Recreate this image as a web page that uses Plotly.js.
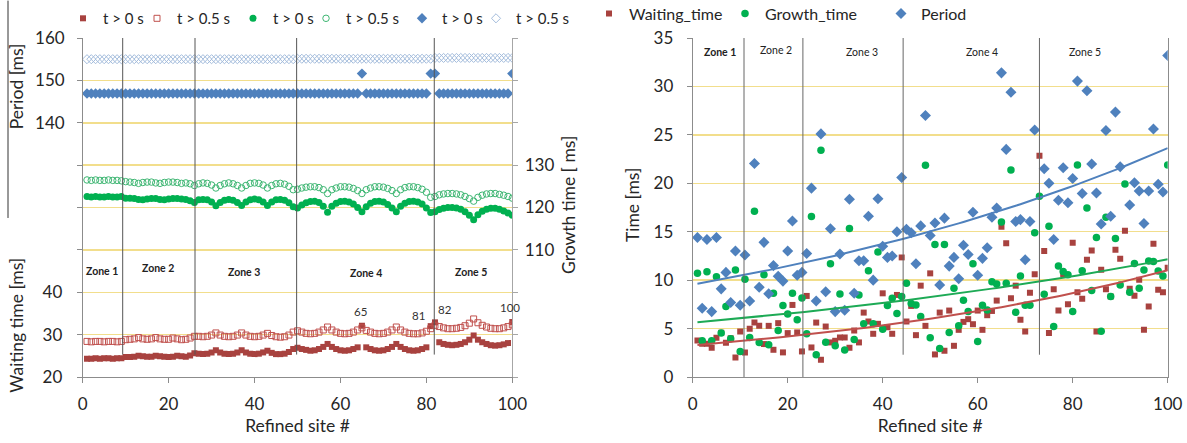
<!DOCTYPE html>
<html>
<head>
<meta charset="utf-8">
<script src="https://cdn.plot.ly/plotly-3.0.1.min.js"></script>
<style>html,body{margin:0;padding:0;background:#fff;}#chart{width:1187px;height:443px;}</style>
</head>
<body>
<div id="chart"></div>
<script>
// ---------------- DATA ----------------
const sites = [1,2,3,4,5,6,7,8,9,10,11,12,13,14,15,16,17,18,19,20,21,22,23,24,25,26,27,28,29,30,31,32,33,34,35,36,37,38,39,40,41,42,43,44,45,46,47,48,49,50,51,52,53,54,55,56,57,58,59,60,61,62,63,64,65,66,67,68,69,70,71,72,73,74,75,76,77,78,79,80,81,82,83,84,85,86,87,88,89,90,91,92,93,94,95,96,97,98,99,100];

// Left panel (t > 0 s = filled, t > 0.5 s = open)
const waitingT0 = [24.3,24.3,24.4,24.3,24.4,24.4,24.3,24.4,24.4,
  24.7,24.7,24.8,25.0,24.9,24.8,24.8,25.0,24.9,24.8,24.7,24.8,25.0,24.9,24.8,25.1,25.6,
  25.5,25.4,25.5,25.8,26.3,25.8,25.5,25.4,25.5,25.8,26.3,25.8,25.5,25.4,25.5,25.8,26.2,25.7,25.4,25.4,25.5,25.9,26.6,
  26.9,26.6,26.4,26.2,26.3,26.6,27.1,27.8,27.1,26.6,26.3,26.2,26.3,26.6,27.0,32.1,27.0,26.6,26.3,26.2,26.3,26.6,27.1,27.8,27.1,26.6,26.3,26.2,26.3,26.6,27.0,32.0,
  32.9,28.2,27.8,27.6,27.5,27.6,27.8,28.2,28.8,29.8,28.8,28.2,27.8,27.5,27.4,27.5,27.7,28.0,33.0];
const waitingT05 = [28.4,28.3,28.4,28.4,28.3,28.4,28.4,28.3,28.4,
  28.8,28.9,29.0,29.3,29.0,28.9,29.0,29.3,29.0,28.9,28.9,29.2,29.0,28.8,28.9,29.2,29.6,
  29.6,29.5,29.6,29.9,30.4,29.9,29.6,29.5,29.6,29.9,30.4,29.9,29.6,29.5,29.6,29.9,30.3,29.8,29.5,29.4,29.5,29.9,30.6,
  30.9,30.6,30.3,30.2,30.3,30.6,31.1,31.8,31.1,30.6,30.3,30.2,30.3,30.6,31.1,31.6,31.0,30.6,30.3,30.2,30.3,30.6,31.1,31.8,31.1,30.6,30.3,30.2,30.2,30.4,30.8,31.4,
  32.2,31.9,31.6,31.4,31.4,31.5,31.7,32.1,32.7,33.7,32.8,32.2,31.8,31.5,31.4,31.4,31.6,31.9,32.3];
const growthT0 = [122.6,122.5,122.6,122.5,122.5,122.6,122.5,122.5,122.6,
  122.2,122.2,122.1,121.9,121.8,122.0,122.1,122.1,121.9,121.8,122.0,122.1,122.1,122.0,121.9,121.6,121.2,
  121.8,121.9,121.8,121.3,120.4,121.2,121.7,121.9,121.7,121.2,120.5,121.3,121.8,122.0,121.8,121.3,120.5,121.3,121.8,121.9,121.7,121.1,120.2,
  119.9,120.6,121.1,121.4,121.5,121.2,120.3,118.9,120.3,121.0,121.4,121.5,121.3,120.8,120.0,119.0,120.2,121.0,121.4,121.5,121.3,120.7,119.9,119.0,120.3,121.0,121.4,121.5,121.3,120.8,119.9,118.8,
  119.0,119.5,119.8,120.0,120.0,119.9,119.6,119.0,118.2,117.1,118.3,119.1,119.6,119.8,119.8,119.6,119.2,118.7,118.2];
const growthT05 = [126.5,126.4,126.5,126.4,126.4,126.5,126.4,126.4,126.3,
  126.1,126.0,125.9,125.7,125.9,126.0,126.0,125.8,125.7,125.9,126.0,126.0,125.9,125.7,125.8,125.6,125.2,
  125.6,125.8,125.7,125.3,124.6,125.2,125.6,125.8,125.6,125.2,124.6,125.2,125.7,125.8,125.7,125.3,124.6,125.2,125.6,125.7,125.5,125.0,124.2,
  124.3,124.6,124.8,124.9,124.9,124.7,124.2,123.3,124.2,124.6,124.9,124.9,124.8,124.5,124.0,123.3,124.2,124.6,124.9,124.9,124.8,124.5,124.0,123.3,124.2,124.7,124.9,124.9,124.7,124.3,123.6,122.4,
  122.6,123.0,123.2,123.3,123.3,123.2,123.0,122.6,122.1,121.5,122.4,122.9,123.2,123.3,123.3,123.1,122.9,122.6,122.2];
const periodT0 = [146.9,146.9,146.9,146.9,146.9,146.9,146.9,146.9,146.9,146.9,
  146.9,146.9,146.9,146.9,146.9,146.9,146.9,146.9,146.9,146.9,
  146.9,146.9,146.9,146.9,146.9,146.9,146.9,146.9,146.9,146.9,
  146.9,146.9,146.9,146.9,146.9,146.9,146.9,146.9,146.9,146.9,
  146.9,146.9,146.9,146.9,146.9,146.9,146.9,146.9,146.9,146.9,
  146.9,146.9,146.9,146.9,146.9,146.9,146.9,146.9,146.9,146.9,
  146.9,146.9,146.9,146.9,151.6,146.9,146.9,146.9,146.9,146.9,
  146.9,146.9,146.9,146.9,146.9,146.9,146.9,146.9,146.9,146.9,
  151.6,151.6,146.9,146.9,146.9,146.9,146.9,146.9,146.9,146.9,
  146.9,146.9,146.9,146.9,146.9,146.9,146.9,146.9,146.9,151.6];
const periodT05 = [155.0,155.0,155.0,155.0,155.0,155.0,155.0,155.0,155.0,155.0,
  155.0,155.0,155.0,155.0,155.0,155.0,155.0,155.0,155.0,155.0,
  155.0,155.0,155.0,155.0,155.0,155.0,155.0,155.0,155.0,155.0,
  155.0,155.0,155.0,155.0,155.0,155.0,155.0,155.0,155.0,155.0,
  155.0,155.0,155.0,155.0,155.0,155.0,155.0,155.0,155.0,155.1,
  155.1,155.1,155.1,155.1,155.1,155.1,155.1,155.1,155.1,155.1,
  155.1,155.1,155.1,155.1,155.1,155.1,155.1,155.1,155.1,155.1,
  155.1,155.1,155.1,155.1,155.1,155.1,155.1,155.1,155.1,155.1,
  155.1,155.3,155.3,155.3,155.3,155.3,155.3,155.3,155.3,155.3,
  155.3,155.3,155.3,155.3,155.3,155.3,155.3,155.3,155.3,155.3];
const specialSites = [65, 81, 82, 100];

// Right panel
const waitingTime = [3.77,3.43,3.43,3.02,4.05,4.57,3.53,4.0,2.02,4.7,
  2.54,4.97,5.62,5.28,3.4,5.28,2.81,5.56,2.54,4.53,
  7.44,4.6,2.64,8.37,3.05,5.62,1.78,5.21,3.57,3.74,
  4.08,4.08,3.02,4.8,3.57,6.65,5.73,4.46,5.49,8.64,
  5.14,4.46,8.47,12.35,5.73,7.34,4.32,9.43,5.28,10.7,
  2.33,6.65,2.71,6.86,3.22,4.87,5.69,5.97,5.45,6.86,
  4.87,6.38,6.82,7.89,15.5,13.82,8.13,9.43,5.9,4.7,
  8.71,10.6,22.84,13.0,4.53,9.05,6.86,10.6,7.51,13.85,
  8.74,8.09,12.1,13.07,4.7,11.08,9.05,8.3,13.13,12.2,
  15.09,9.12,8.4,10.05,4.87,7.27,13.75,9.0,8.74,11.28];
const growthTime = [10.7,3.74,10.87,3.74,10.36,4.53,7.27,3.94,11.04,2.64,
  10.08,4.08,17.1,3.57,10.56,3.33,8.64,4.8,7.37,6.5,
  8.64,5.9,8.16,4.46,16.56,2.3,23.4,3.6,11.7,3.22,
  8.57,2.8,15.33,3.87,8.47,5.49,10.97,5.49,12.9,4.94,
  7.37,8.13,6.55,8.3,9.67,7.6,7.44,6.24,21.85,4.05,
  13.68,2.95,13.68,4.6,9.16,5.28,7.92,6.75,11.7,3.67,
  7.4,6.93,9.84,9.6,16.0,9.67,21.36,6.69,10.43,7.4,
  7.4,14.9,18.65,8.54,15.57,5.21,11.45,10.9,10.56,6.75,
  21.88,10.97,17.46,8.92,14.4,4.73,16.5,8.3,14.3,9.5,
  19.92,8.74,11.73,9.16,11.04,11.97,11.93,10.94,10.43,21.9];
const periodTime = [14.4,7.1,14.2,6.75,14.4,9.1,10.8,7.7,13.0,7.4,
  12.6,7.85,22.05,9.26,13.9,8.6,11.5,10.4,9.9,13.0,
  16.1,10.5,10.8,12.75,19.5,7.85,25.1,8.8,15.3,6.75,
  12.7,6.9,18.35,8.64,12.0,12.0,16.6,10.0,18.4,13.5,
  12.35,12.5,15.0,20.6,15.26,14.9,11.7,15.6,27.0,14.6,
  15.9,9.5,16.4,11.45,12.35,10.15,13.6,12.65,17.0,10.5,
  12.25,13.35,16.5,17.45,31.4,23.5,29.4,16.05,16.25,12.1,
  16.05,25.5,41.5,21.5,20.0,14.2,18.25,21.6,18.0,20.5,
  30.55,18.95,29.55,22.0,19.0,15.8,25.45,16.6,27.35,21.7,
  35.8,17.75,20.05,19.2,15.85,19.2,25.6,19.9,19.1,33.2];

// Zones
const zoneNames = ['Zone 1','Zone 2','Zone 3','Zone 4','Zone 5'];
const zoneEdgesLeft = [9.31, 26.14, 49.8, 81.84];
const zoneEdgesRight = [10.8, 23.2, 44.3, 73.0];

// ---------------- STYLE / GEOMETRY ----------------
const W = 1187, H = 443;
const PT = 37.5, PB = 377.5, PH = PB - PT;
const FONT = 'Lato, "Open Sans", "DejaVu Sans", sans-serif';
const GRID = '#F2DE8C';
const AX = '#8C8C8C';
const TXT = '#262626';
const RED = '#A8423F', GREEN = '#00B050', BLUE = '#4F81BD';
const TICKSIZE = 17, TITLESIZE = 17.5;

function py(p){ return (PB - p) / PH; }   // pixel y -> paper y
function px(p){ return p / W; }

function expFit(xs, ys){
  const n = xs.length; let sx=0, sy=0, sxx=0, sxy=0;
  for (let i=0;i<n;i++){ const l=Math.log(ys[i]); sx+=xs[i]; sy+=l; sxx+=xs[i]*xs[i]; sxy+=xs[i]*l; }
  const b = (n*sxy - sx*sy)/(n*sxx - sx*sx); const a = (sy - b*sx)/n;
  return xs.map(x => Math.exp(a + b*x));
}

// legend placed so that its text starts at textX
function leg(textX, yp, fs){
  return {x: px(textX - 37), y: py(yp), xanchor:'left', yanchor:'middle', orientation:'h',
    bgcolor:'rgba(0,0,0,0)', borderwidth:0, itemwidth:30,
    font:{family:FONT, size:fs, color:TXT}};
}

const traces = [
  {x:sites, y:waitingT0, name:'t > 0 s', type:'scatter', mode:'markers', xaxis:'x', yaxis:'y', legend:'legend',
   marker:{symbol:'square', size:6, color:RED}},
  {x:sites, y:waitingT05, name:'t > 0.5 s', type:'scatter', mode:'markers', xaxis:'x', yaxis:'y', legend:'legend2',
   marker:{symbol:'square-open', size:6, color:'#C0504D', line:{width:1}}},
  {x:sites, y:growthT0, name:'t > 0 s', type:'scatter', mode:'markers', xaxis:'x', yaxis:'y3', legend:'legend3',
   marker:{symbol:'circle', size:7, color:GREEN}},
  {x:sites, y:growthT05, name:'t > 0.5 s', type:'scatter', mode:'markers', xaxis:'x', yaxis:'y3', legend:'legend4',
   marker:{symbol:'circle-open', size:6.5, color:'#3DB672', line:{width:1}}},
  {x:sites, y:periodT0, name:'t > 0 s', type:'scatter', mode:'markers', xaxis:'x', yaxis:'y2', legend:'legend5',
   marker:{symbol:'diamond', size:8, color:BLUE}},
  {x:sites, y:periodT05, name:'t > 0.5 s', type:'scatter', mode:'markers', xaxis:'x', yaxis:'y2', legend:'legend6',
   marker:{symbol:'diamond-open', size:7, color:'#A3BCDC', line:{width:1}}},

  {x:sites, y:waitingTime, name:'Waiting_time', type:'scatter', mode:'markers', xaxis:'x2', yaxis:'y4', legend:'legend7',
   marker:{symbol:'square', size:6, color:RED}},
  {x:sites, y:growthTime, name:'Growth_time', type:'scatter', mode:'markers', xaxis:'x2', yaxis:'y4', legend:'legend8',
   marker:{symbol:'circle', size:7.5, color:GREEN}},
  {x:sites, y:periodTime, name:'Period', type:'scatter', mode:'markers', xaxis:'x2', yaxis:'y4', legend:'legend9',
   marker:{symbol:'diamond', size:8.5, color:BLUE}},
  {x:sites, y:expFit(sites, waitingTime), type:'scatter', mode:'lines', xaxis:'x2', yaxis:'y4', showlegend:false,
   line:{color:'#C0504D', width:2}, hoverinfo:'skip'},
  {x:sites, y:expFit(sites, growthTime), type:'scatter', mode:'lines', xaxis:'x2', yaxis:'y4', showlegend:false,
   line:{color:'#1DAA55', width:2}, hoverinfo:'skip'},
  {x:sites, y:expFit(sites, periodTime), type:'scatter', mode:'lines', xaxis:'x2', yaxis:'y4', showlegend:false,
   line:{color:'#4F81BD', width:2}, hoverinfo:'skip'}
];

const xCommon = {range:[0,100], tickvals:[0,20,40,60,80,100], ticks:'outside', ticklen:5, tickcolor:AX,
  showline:true, linecolor:AX, linewidth:1, showgrid:false, zeroline:false, automargin:false,
  tickfont:{family:FONT, size:TICKSIZE, color:TXT}, ticklabelstandoff:7,
  title:{text:'Refined site #', font:{family:FONT, size:TITLESIZE, color:TXT}, standoff:6}};

const shapes = [];
zoneEdgesLeft.forEach(e => shapes.push({type:'line', xref:'x', yref:'paper', x0:e, x1:e, y0:py(355), y1:1,
  line:{color:'#555', width:1}}));
zoneEdgesRight.forEach((e,i) => shapes.push({type:'line', xref:'x2', yref:'y4', x0:e, x1:e, y0:(i<2?0:2.3), y1:35,
  line:{color:'#666', width:1}}));
shapes.push({type:'line', xref:'paper', yref:'paper', x0:px(8), x1:px(8), y0:py(218), y1:py(0), line:{color:'#333', width:1}});

const annotations = [];
const zoneLeftX = [4.5, 17.6, 37.5, 66.0, 90.5];
const zoneLeftY = [271, 268, 272, 273, 272];
const zoneRightX = [5.7, 17.5, 35.6, 61.0, 82.6];
const zoneRightY = [51.5, 49.5, 51.5, 52, 51.5];
zoneNames.forEach((z,i) => {
  annotations.push({x:zoneLeftX[i], y:py(zoneLeftY[i]), xref:'x', yref:'paper', xanchor:'center', yanchor:'middle',
    text:'<b>'+z+'</b>', showarrow:false, font:{family:FONT, size:10.5, color:'#222'}});
  annotations.push({x:zoneRightX[i], y:py(zoneRightY[i]), xref:'x2', yref:'paper', xanchor:'center', yanchor:'middle',
    text:(i===0?'<b>'+z+'</b>':z), showarrow:false, font:{family:FONT, size:10.5, color:'#222'}});
});
const siteShift = [[-1,14],[-12,11],[10,13],[-2,14]];
specialSites.forEach((s,i) => annotations.push({x:s, y:waitingT0[s-1], xref:'x', yref:'y', xanchor:'center', yanchor:'middle',
  text:String(s), showarrow:false, xshift:siteShift[i][0], yshift:siteShift[i][1], font:{family:FONT, size:11.5, color:'#333'}}));
const yTitle = (t, xp, yp) => ({text:t, x:px(xp), y:py(yp), xref:'paper', yref:'paper', xanchor:'center', yanchor:'middle',
  showarrow:false, textangle:-90, font:{family:FONT, size:TITLESIZE, color:TXT}});
annotations.push(yTitle('Period [ms]', 16, 86));
annotations.push(yTitle('Waiting time [ms]', 17, 326));
annotations.push(yTitle('Growth time [ ms]', 568, 205));
annotations.push(yTitle('Time [ms]', 632, 205));

const layout = {
  width:W, height:H, paper_bgcolor:'#fff', plot_bgcolor:'#fff',
  margin:{l:0, r:0, t:PT, b:H-PB, autoexpand:false},
  font:{family:FONT, size:15, color:TXT},
  showlegend:true,
  xaxis:Object.assign({}, xCommon, {domain:[px(82.7), px(512.3)], anchor:'y'}),
  xaxis2:Object.assign({}, xCommon, {domain:[px(692.7), px(1167.7)], anchor:'y4'}),
  yaxis:{domain:[0,1], anchor:'x', range:[20,100], tickvals:[20,30,40,50,60,70,80,90,100],
    ticktext:['20','30','40','','','','','',''], ticks:'outside', ticklen:5, tickcolor:AX,
    showline:true, linecolor:AX, showgrid:true, gridcolor:GRID, gridwidth:1.5, zeroline:false, automargin:false,
    tickfont:{family:FONT, size:TICKSIZE, color:TXT}, ticklabelstandoff:11},
  yaxis2:{overlaying:'y', anchor:'x', side:'left', range:[80,160], tickvals:[140,150,160], ticks:'',
    showline:false, showgrid:false, zeroline:false, automargin:false,
    tickfont:{family:FONT, size:TICKSIZE, color:TXT}, ticklabelstandoff:17},
  yaxis3:{overlaying:'y', anchor:'x', side:'right', range:[80,160], tickvals:[80,90,100,110,120,130,140,150,160],
    ticktext:['','','','110','120','130','','',''], ticks:'outside', ticklen:5, tickcolor:'#A6A6A6',
    showline:true, linecolor:'#A6A6A6', showgrid:false, zeroline:false, automargin:false,
    tickfont:{family:FONT, size:TICKSIZE, color:TXT}, ticklabelstandoff:3},
  yaxis4:{domain:[0,1], anchor:'x2', range:[0,35], tickvals:[0,5,10,15,20,25,30,35], ticks:'outside', ticklen:5, tickcolor:AX,
    showline:true, mirror:true, linecolor:AX, showgrid:true, gridcolor:GRID, gridwidth:1.5, zeroline:false, automargin:false,
    tickfont:{family:FONT, size:TICKSIZE, color:TXT}, ticklabelstandoff:10},
  legend:leg(100,18,15), legend2:leg(174,18,15), legend3:leg(270,18,15), legend4:leg(343,18,15),
  legend5:leg(439,18,15), legend6:leg(513,18,15),
  legend7:leg(626,13,16), legend8:leg(762,13,16), legend9:leg(918,13,16),
  shapes:shapes, annotations:annotations
};

Plotly.newPlot('chart', traces, layout, {displayModeBar:false, staticPlot:true});
</script>
</body>
</html>
